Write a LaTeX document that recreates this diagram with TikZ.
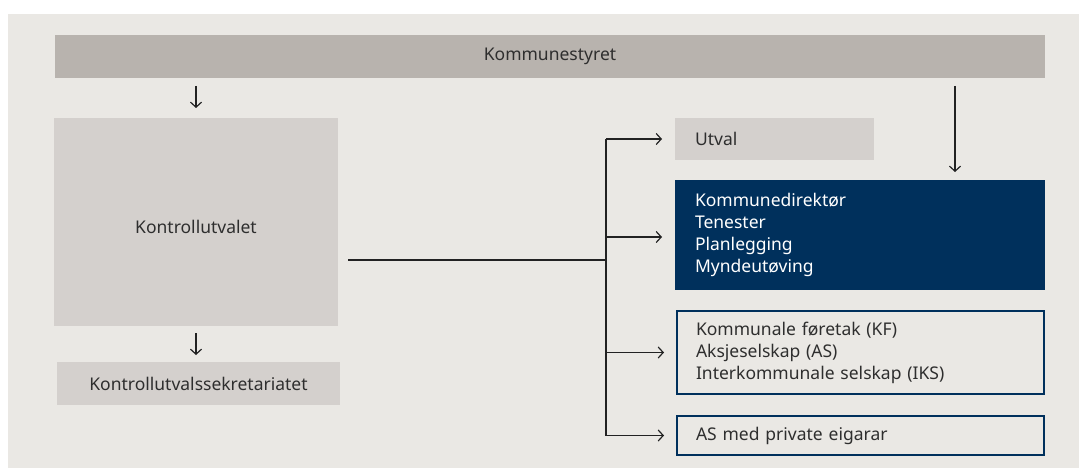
\documentclass[tikz,border=0pt]{standalone}
\usepackage{fontspec}
\setmainfont{Noto Sans}
\usetikzlibrary{arrows.meta}
\definecolor{bgc}{HTML}{EAE8E4}
\definecolor{barc}{HTML}{B8B3AE}
\definecolor{boxc}{HTML}{D4D0CD}
\definecolor{navy}{HTML}{00305C}
\definecolor{txt}{HTML}{2E2E2E}
\definecolor{linec}{HTML}{222222}
\tikzset{
  base/.style={inner sep=0pt, outer sep=0pt, text=txt, font=\fontsize{17.5}{22}\selectfont},
  graybar/.style={base, fill=barc},
  graybox/.style={base, fill=boxc},
  navybox/.style={base, fill=navy, text=white},
  framebox/.style={base, draw=navy, line width=2pt},
  leftpad/.style={align=left, text width=#1},
  arr/.style={draw=linec, line width=1.2pt, -{Straight Barb[length=5pt,width=11pt,line width=1.2pt]}},
  conn/.style={draw=linec, line width=1.2pt}
}
\begin{document}
\begin{tikzpicture}[x=1pt,y=-1pt]
\useasboundingbox (0,0) rectangle (1079,468);
\fill[white] (0,0) rectangle (1079,468);
\fill[bgc] (8,14) rectangle (1079,468);
% boxes
\node[graybar, minimum width=990pt, minimum height=43pt] (ks) at (550,56.5) {Kommunestyret};
\node[graybox, minimum width=284pt, minimum height=208pt] (ku) at (196,222) {\raisebox{-12pt}[0pt][0pt]{Kontrollutvalet}};
\node[graybox, minimum width=283pt, minimum height=43pt] (sek) at (198.5,383.5) {Kontrollutvalssekretariatet};
\node[graybox, minimum width=199pt, minimum height=42pt, leftpad=159pt, inner xsep=20pt] (ut) at (774.5,139) {Utval};
\node[navybox, minimum width=370pt, minimum height=110pt, leftpad=330pt, inner xsep=20pt] (kd) at (860,235)
  {Kommunedirektør\\Tenester\\Planlegging\\Myndeutøving};
\node[framebox, minimum width=367pt, minimum height=83pt, leftpad=329pt, inner xsep=19pt] (kf) at (860.5,352.5)
  {Kommunale føretak (KF)\\Aksjeselskap (AS)\\Interkommunale selskap (IKS)};
\node[framebox, minimum width=367pt, minimum height=39pt, leftpad=329pt, inner xsep=19pt] (as) at (860.5,435.5)
  {AS med private eigarar};
% connectors
\coordinate (j) at (606,260);
\coordinate (rtop) at (955,86);
\draw[arr, shorten <=8pt, shorten >=10pt] (ku.north |- ks.south) -- (ku.north);
\draw[arr, shorten <=7pt, shorten >=7pt] (ku.south) -- (ku.south |- sek.north);
\draw[arr, shorten >=8pt] (rtop) -- (rtop |- kd.north);
\draw[conn] ([xshift=10pt]ku.east |- j) -- (j);
\draw[conn] (j |- ut.west) -- (j |- as.west);
\draw[arr, shorten >=13pt] (j |- ut.west) -- (ut.west);
\draw[arr, shorten >=13pt] ([yshift=-2pt]j |- kd.west) -- ([yshift=-2pt]kd.west);
\draw[arr, shorten >=13pt] (j |- kf.west) -- (kf.west);
\draw[arr, shorten >=13pt] (j |- as.west) -- (as.west);
\end{tikzpicture}
\end{document}
